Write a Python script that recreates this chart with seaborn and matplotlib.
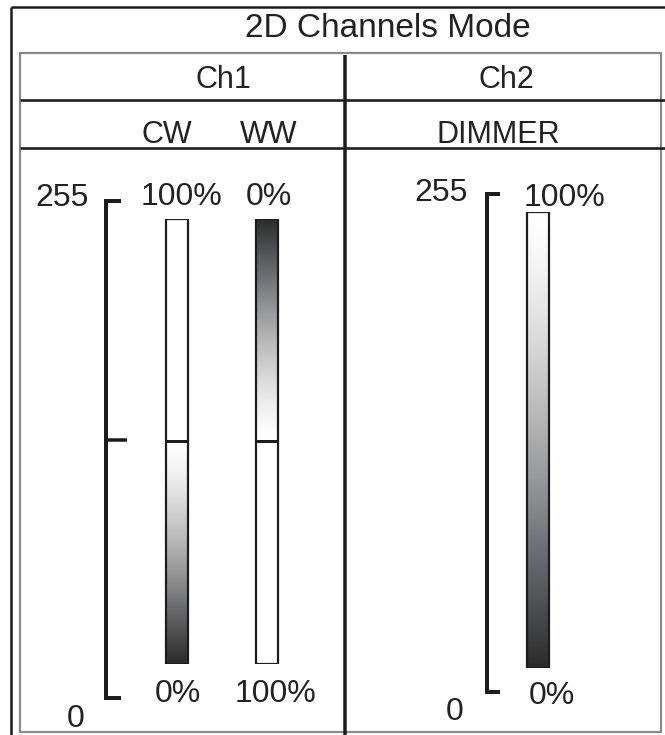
import numpy as np
import pandas as pd
import matplotlib
matplotlib.use("Agg")
import matplotlib.pyplot as plt
from matplotlib.colors import LinearSegmentedColormap
import seaborn as sns

# ---------------- data ----------------
title = "2D Channels Mode"
channels = ["Ch1", "Ch2"]
ch1_bars = ["CW", "WW"]
ch2_bars = ["DIMMER"]
dmx_min = 0
dmx_max = 255
dmx_mid = 127.5
ch1_top_labels = ["100%", "0%"]
ch1_bottom_labels = ["0%", "100%"]
ch2_top_labels = ["100%"]
ch2_bottom_labels = ["0%"]
# DMX range over which each bar fades, and the DMX value where it is darkest
ch1_fade_lo = [0, 127.5]
ch1_fade_hi = [127.5, 255]
ch1_dark_at = [0, 255]
ch2_fade_lo = [0]
ch2_fade_hi = [255]
ch2_dark_at = [0]

# ---------------- style ----------------
sns.set_style("white")
plt.rcParams["font.family"] = ["Liberation Sans", "DejaVu Sans"]
INK = "#1c1c1c"
TXT = "#222222"
DARK = "#2b2b2b"
W, H = 665, 735

fig = plt.figure(figsize=(W / 100, H / 100), dpi=100)
bg = fig.add_axes([0, 0, 1, 1])
bg.set_xlim(0, W)
bg.set_ylim(H, 0)
bg.axis("off")

def px(v):
    return v * 72 / 100.0

# frame
bg.plot([11, 665], [7, 7], color=INK, lw=px(2.5), solid_capstyle="butt")
bg.plot([11, 11], [7, 735], color=INK, lw=px(2.5), solid_capstyle="butt")
bg.plot([20, 661, 661, 20, 20], [53, 53, 732, 732, 53], color="#8a8a8a", lw=px(2.2))
bg.plot([20, 665], [100, 100], color=INK, lw=px(2.6), solid_capstyle="butt")
bg.plot([20, 665], [148, 148], color=INK, lw=px(2.6), solid_capstyle="butt")
bg.plot([345, 345], [55, 735], color=INK, lw=px(3.5), solid_capstyle="butt")

# headings
bg.text(388, 37, title, ha="center", va="baseline", fontsize=24, color=TXT)
bg.text(223, 88, channels[0], ha="center", va="baseline", fontsize=22, color=TXT)
bg.text(506, 88, channels[1], ha="center", va="baseline", fontsize=22, color=TXT)
for name, cx in zip(ch1_bars, [167, 269]):
    bg.text(cx, 143, name, ha="center", va="baseline", fontsize=22, color=TXT)
bg.text(498, 143, ch2_bars[0], ha="center", va="baseline", fontsize=22, color=TXT)

# DMX brackets (value scale 0..255)
def bracket(x, ytop, ybot, ymid=None, tick=15):
    bg.plot([x + tick, x, x, x + tick], [ytop, ytop, ybot, ybot], color=INK,
            lw=px(4), solid_joinstyle="miter", solid_capstyle="butt")
    if ymid is not None:
        bg.plot([x, x + tick + 6], [ymid, ymid], color=INK, lw=px(3.5),
                solid_capstyle="butt")

bracket(106, 201, 698, 440)
bracket(486.5, 194, 691.5, None, 13)
bg.text(62, 206, str(dmx_max), ha="center", va="baseline", fontsize=23, color=TXT)
bg.text(76, 727, str(dmx_min), ha="center", va="baseline", fontsize=23, color=TXT)
bg.text(441, 201, str(dmx_max), ha="center", va="baseline", fontsize=23, color=TXT)
bg.text(454.5, 720, str(dmx_min), ha="center", va="baseline", fontsize=23, color=TXT)

# percentage labels
for lab, cx in zip(ch1_top_labels, [181.5, 269]):
    bg.text(cx, 205, lab, ha="center", va="baseline", fontsize=23, color=TXT)
for lab, cx in zip(ch1_bottom_labels, [178, 275.5]):
    bg.text(cx, 702, lab, ha="center", va="baseline", fontsize=23, color=TXT)
bg.text(565, 206, ch2_top_labels[0], ha="center", va="baseline", fontsize=23, color=TXT)
bg.text(552, 704, ch2_bottom_labels[0], ha="center", va="baseline", fontsize=23, color=TXT)

# gradient colormap (white -> dark)
cmap = LinearSegmentedColormap.from_list("fade", ["#ffffff", "#b9b9b9", "#6d7073", DARK])


def bar_axes(left, right, top, bottom, center):
    ax = fig.add_axes([left / W, 1 - bottom / H, (right - left) / W, (bottom - top) / H])
    ax.patch.set_alpha(0)
    return ax, (left - center) / 90.0, (right - center) / 90.0


def draw_bars(ax, names, lo, hi, dark_at, xlim, divider):
    df = pd.DataFrame({"bar": names, "dmx": [dmx_max] * len(names)})
    sns.barplot(data=df, x="bar", y="dmx", ax=ax, width=22 / 90.0, color="white",
                saturation=1, edgecolor=INK, linewidth=px(2.2))
    ax.set_xlim(*xlim)
    ax.set_ylim(dmx_min, dmx_max)
    for p, a, b, d in zip(ax.patches, lo, hi, dark_at):
        x0, x1 = p.get_x(), p.get_x() + p.get_width()
        t = np.linspace(0, 1, 256)
        frac = t[::-1] if d == a else t
        vals = frac ** 1.35
        img = ax.imshow(vals.reshape(-1, 1), extent=[x0, x1, a, b], origin="lower",
                        aspect="auto", cmap=cmap, vmin=0, vmax=1, zorder=1.5,
                        interpolation="bilinear")
        img.set_clip_path(p)
        p.set_facecolor("none")
        p.set_zorder(3)
        if divider:
            ax.plot([x0, x1], [dmx_mid, dmx_mid], color=INK, lw=px(3), zorder=3,
                    solid_capstyle="butt")
    ax.axis("off")


ax1, a1, b1 = bar_axes(100, 340, 218.5, 663.5, 177)
draw_bars(ax1, ch1_bars, ch1_fade_lo, ch1_fade_hi, ch1_dark_at, (a1, b1), True)
ax2, a2, b2 = bar_axes(440, 640, 212, 668, 538)
draw_bars(ax2, ch2_bars, ch2_fade_lo, ch2_fade_hi, ch2_dark_at, (a2, b2), False)

fig.savefig("out.png", dpi=100, facecolor="white")
